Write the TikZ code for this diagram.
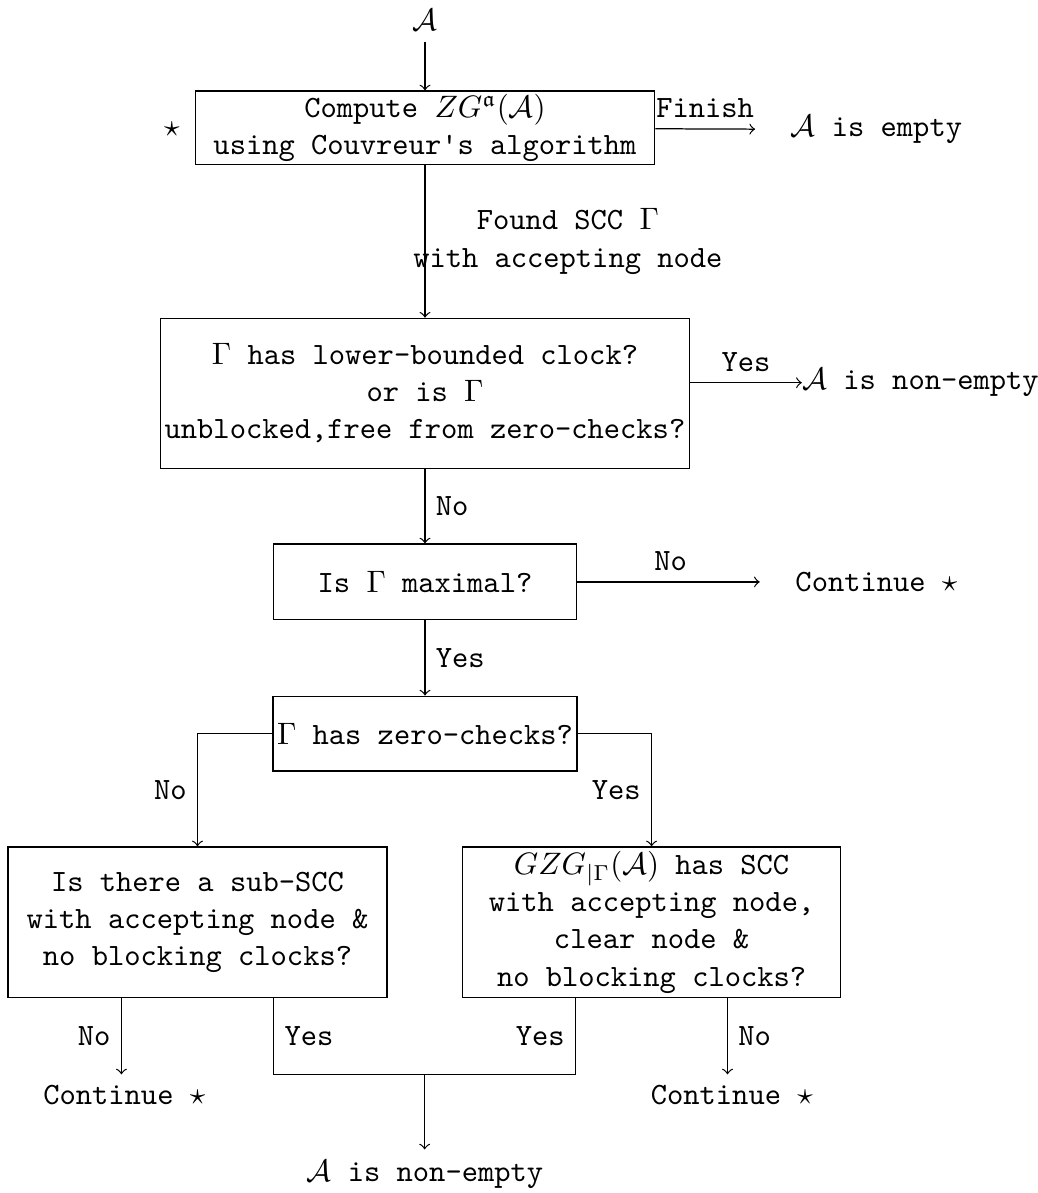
\documentclass[tikz,border=0pt]{standalone}
\usepackage{amssymb}
\usetikzlibrary{calc}

\begin{document}
\begin{tikzpicture}[
        block/.style={
                draw,
                font=\ttfamily,
                align=center,
                inner sep=1pt
            },
        tag/.style={
                font=\ttfamily,
                align=center
            },
        flow/.style={->}
    ]
    \useasboundingbox (0,0) rectangle (11.77,-13.53);

    % ---- Column positions ----
    \def\midX{4.82}
    \def\leftX{2.24}
    \def\rightX{7.39}
    \def\gap{8pt}

    % ---- Couvreur search ----
    \node[tag] (input) at (\midX,-0.23) {$\mathcal{A}$};
    \node[tag] (star) at (1.95,-1.47) {$\star$};
    \node[block, minimum width=5.21cm, minimum height=0.83cm] (zg) at (\midX,-1.45)
    {Compute $ZG^{\mathfrak{a}}(\mathcal{A})$\\using Couvreur's algorithm};
    \node[tag] (empty) at (9.94,-1.47) {$\mathcal{A}$ is empty};

    % ---- Checks on the SCC ----
    \node[block, minimum width=6cm, minimum height=1.7cm] (lower) at (\midX,-4.46)
    {$\Gamma$ has lower-bounded clock?\\or is $\Gamma$\\unblocked,free from zero-checks?};
    \node[tag, inner sep=0pt] (nonemptyA) at (10.44,-4.34) {$\mathcal{A}$ is non-empty};

    \node[block, minimum width=3.44cm, minimum height=0.86cm] (maximal) at (\midX,-6.6)
    {Is $\Gamma$ maximal?};
    \node[tag] (contA) at (9.94,-6.6) {Continue $\star$};

    \node[block, minimum width=3.45cm, minimum height=0.85cm] (zerochk) at (\midX,-8.32)
    {$\Gamma$ has zero-checks?};

    % ---- Sub-SCC searches ----
    \node[block, minimum width=4.3cm, minimum height=1.71cm] (subscc) at (\leftX,-10.46)
    {Is there a sub-SCC\\with accepting node \&\\no blocking clocks?};
    \node[block, minimum width=4.29cm, minimum height=1.71cm] (gzg) at (\rightX,-10.46)
    {$GZG_{|\Gamma}(\mathcal{A})$ has SCC\\with accepting node,\\clear node \&\\ no blocking clocks?};

    \node[tag] (contB) at (1.41,-12.42) {Continue $\star$};
    \node[tag] (contC) at (8.3,-12.42) {Continue $\star$};
    \node[tag] (nonemptyB) at (\midX,-13.32) {$\mathcal{A}$ is non-empty};

    % ---- Arrows ----
    \draw[flow] (input) -- (zg);
    \draw[flow, shorten >=\gap] (zg) -- (empty)
    node[pos=0.4, above, font=\ttfamily] {Finish};
    \draw[flow] (zg) -- (lower)
    node[midway, xshift=1.62cm, tag] {Found SCC $\Gamma$\\with accepting node};
    \draw[flow] (nonemptyA -| lower.east) -- (nonemptyA)
    node[midway, above, font=\ttfamily] {Yes};
    \draw[flow] (lower) -- (maximal) node[midway, right, font=\ttfamily] {No};
    \draw[flow, shorten >=\gap] (maximal) -- (contA)
    node[pos=0.45, above, font=\ttfamily] {No};
    \draw[flow] (maximal) -- (zerochk) node[midway, right, font=\ttfamily] {Yes};
    \draw[flow] (zerochk.west) -| (subscc) node[pos=0.75, left, font=\ttfamily] {No};
    \draw[flow] (zerochk.east) -| (gzg) node[pos=0.75, left, font=\ttfamily] {Yes};

    % dead ends below the two searches
    \coordinate (subNo) at ($(subscc.south west)!0.3!(subscc.south east)$);
    \coordinate (subYes) at ($(subscc.south west)!0.7!(subscc.south east)$);
    \coordinate (gzgYes) at ($(gzg.south west)!0.3!(gzg.south east)$);
    \coordinate (gzgNo) at ($(gzg.south west)!0.7!(gzg.south east)$);
    \coordinate (join) at ($(subYes)!0.5!(gzgYes)+(0,-0.865)$);

    \draw[flow] (subNo) -- (subNo |- contB.north) node[midway, left, font=\ttfamily] {No};
    \draw[flow] (gzgNo) -- (gzgNo |- contC.north) node[midway, right, font=\ttfamily] {No};
    \draw (subYes) |- (join) node[pos=0.25, right, font=\ttfamily] {Yes};
    \draw (gzgYes) |- (join) node[pos=0.25, left, font=\ttfamily] {Yes};
    \draw[flow] (join) -- (join |- nonemptyB.north);
\end{tikzpicture}
\end{document}
